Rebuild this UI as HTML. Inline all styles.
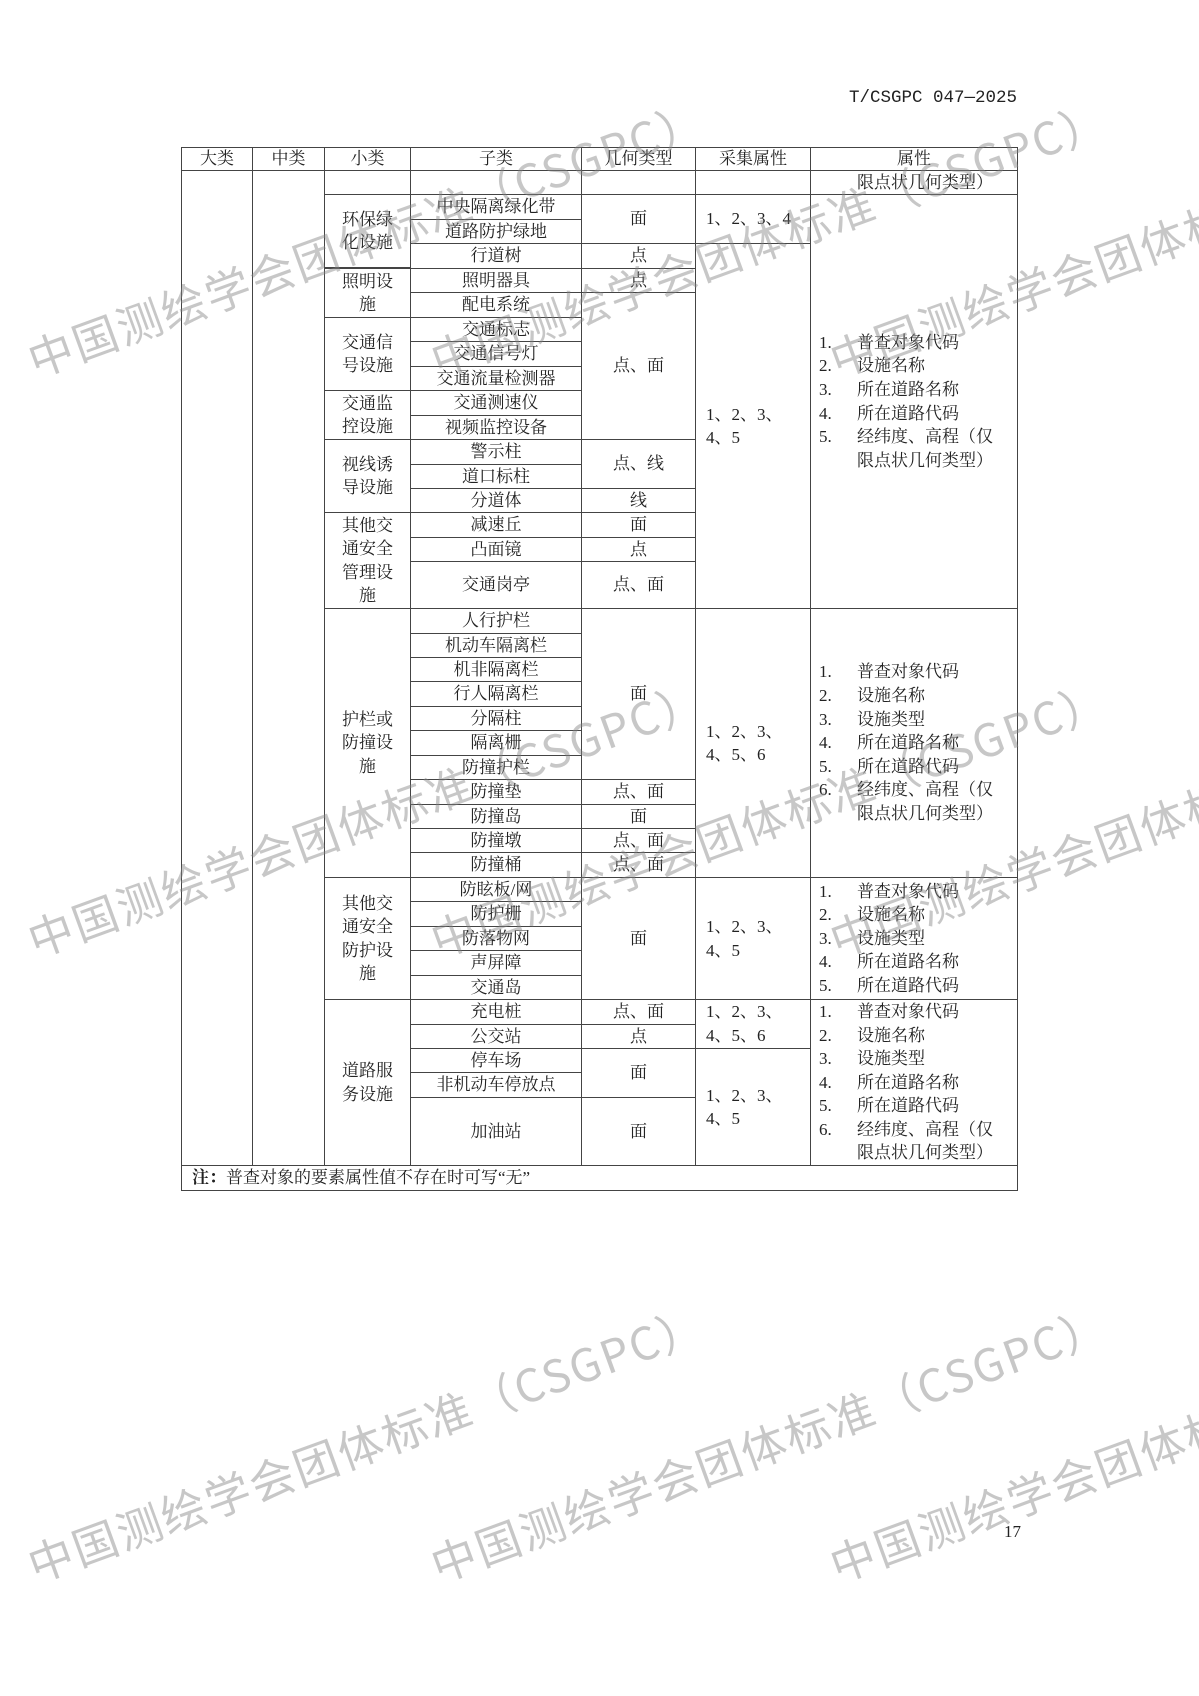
<!DOCTYPE html>
<html><head><meta charset="utf-8">
<style>
html,body{margin:0;padding:0;background:#fff;}
body{width:1199px;height:1696px;position:relative;overflow:hidden;font-family:"Liberation Serif","Noto Serif CJK SC",serif;color:#222;}
.c,.l{position:absolute;box-sizing:border-box;border:1.3px solid #444;font-size:17px;line-height:23.5px;display:flex;align-items:center;}
.c{justify-content:center;text-align:center;}
.l{justify-content:flex-start;padding-left:10px;}
.a{position:absolute;box-sizing:border-box;border:1.3px solid #444;font-size:17px;line-height:23.6px;padding-left:8px;display:flex;flex-direction:column;justify-content:center;}
.a div{display:flex;}
.a span.n{width:38px;flex:none;}
.a span.t{max-width:140px;}
.wm{position:absolute;font-family:"Noto Sans CJK SC",sans-serif;font-size:45px;color:rgba(130,130,130,0.45);white-space:nowrap;transform-origin:0 100%;transform:rotate(-20deg);letter-spacing:2px;}
</style></head><body>
<div style="position:absolute;right:182px;top:88px;font-size:17.5px;font-family:'Liberation Mono',monospace;">T/CSGPC 047—2025</div>

<!-- header -->
<div class="c" style="left:181px;top:147px;width:72px;height:24px;">大类</div>
<div class="c" style="left:252px;top:147px;width:73px;height:24px;">中类</div>
<div class="c" style="left:324px;top:147px;width:87px;height:24px;">小类</div>
<div class="c" style="left:410px;top:147px;width:172px;height:24px;">子类</div>
<div class="c" style="left:581px;top:147px;width:115px;height:24px;">几何类型</div>
<div class="c" style="left:695px;top:147px;width:116px;height:24px;">采集属性</div>
<div class="c" style="left:810px;top:147px;width:208px;height:24px;">属性</div>

<!-- big/mid -->
<div class="c" style="left:181px;top:170px;width:72px;height:996px;"></div>
<div class="c" style="left:252px;top:170px;width:73px;height:996px;"></div>

<!-- continuation row -->
<div class="c" style="left:324px;top:170px;width:87px;height:25px;"></div>
<div class="c" style="left:410px;top:170px;width:172px;height:25px;"></div>
<div class="c" style="left:581px;top:170px;width:115px;height:25px;"></div>
<div class="c" style="left:695px;top:170px;width:116px;height:25px;"></div>
<div class="l" style="left:810px;top:170px;width:208px;height:25px;padding-left:46px;">限点状几何类型）</div>

<!-- 小类 -->
<div class="c" style="left:324px;top:194px;width:87px;height:74px;">环保绿<br>化设施</div>
<div class="c" style="left:324px;top:268px;width:87px;height:50px;">照明设<br>施</div>
<div class="c" style="left:324px;top:317px;width:87px;height:74px;">交通信<br>号设施</div>
<div class="c" style="left:324px;top:390px;width:87px;height:50px;">交通监<br>控设施</div>
<div class="c" style="left:324px;top:439px;width:87px;height:74px;">视线诱<br>导设施</div>
<div class="c" style="left:324px;top:512px;width:87px;height:97px;">其他交<br>通安全<br>管理设<br>施</div>
<div class="c" style="left:324px;top:608px;width:87px;height:270px;">护栏或<br>防撞设<br>施</div>
<div class="c" style="left:324px;top:877px;width:87px;height:123px;">其他交<br>通安全<br>防护设<br>施</div>
<div class="c" style="left:324px;top:999px;width:87px;height:167px;">道路服<br>务设施</div>

<!-- 子类 -->
<div class="c" style="left:410px;top:194px;width:172px;height:26px;">中央隔离绿化带</div>
<div class="c" style="left:410px;top:219px;width:172px;height:25px;">道路防护绿地</div>
<div class="c" style="left:410px;top:243px;width:172px;height:26px;">行道树</div>
<div class="c" style="left:410px;top:268px;width:172px;height:25px;">照明器具</div>
<div class="c" style="left:410px;top:292px;width:172px;height:26px;">配电系统</div>
<div class="c" style="left:410px;top:317px;width:172px;height:25px;">交通标志</div>
<div class="c" style="left:410px;top:341px;width:172px;height:26px;">交通信号灯</div>
<div class="c" style="left:410px;top:366px;width:172px;height:25px;">交通流量检测器</div>
<div class="c" style="left:410px;top:390px;width:172px;height:26px;">交通测速仪</div>
<div class="c" style="left:410px;top:415px;width:172px;height:25px;">视频监控设备</div>
<div class="c" style="left:410px;top:439px;width:172px;height:26px;">警示柱</div>
<div class="c" style="left:410px;top:464px;width:172px;height:25px;">道口标柱</div>
<div class="c" style="left:410px;top:488px;width:172px;height:25px;">分道体</div>
<div class="c" style="left:410px;top:512px;width:172px;height:26px;">减速丘</div>
<div class="c" style="left:410px;top:537px;width:172px;height:25px;">凸面镜</div>
<div class="c" style="left:410px;top:561px;width:172px;height:48px;">交通岗亭</div>
<div class="c" style="left:410px;top:608px;width:172px;height:26px;">人行护栏</div>
<div class="c" style="left:410px;top:633px;width:172px;height:25px;">机动车隔离栏</div>
<div class="c" style="left:410px;top:657px;width:172px;height:25px;">机非隔离栏</div>
<div class="c" style="left:410px;top:681px;width:172px;height:26px;">行人隔离栏</div>
<div class="c" style="left:410px;top:706px;width:172px;height:25px;">分隔柱</div>
<div class="c" style="left:410px;top:730px;width:172px;height:26px;">隔离栅</div>
<div class="c" style="left:410px;top:755px;width:172px;height:25px;">防撞护栏</div>
<div class="c" style="left:410px;top:779px;width:172px;height:26px;">防撞垫</div>
<div class="c" style="left:410px;top:804px;width:172px;height:25px;">防撞岛</div>
<div class="c" style="left:410px;top:828px;width:172px;height:25px;">防撞墩</div>
<div class="c" style="left:410px;top:852px;width:172px;height:26px;">防撞桶</div>
<div class="c" style="left:410px;top:877px;width:172px;height:25px;">防眩板/网</div>
<div class="c" style="left:410px;top:901px;width:172px;height:26px;">防护栅</div>
<div class="c" style="left:410px;top:926px;width:172px;height:25px;">防落物网</div>
<div class="c" style="left:410px;top:950px;width:172px;height:26px;">声屏障</div>
<div class="c" style="left:410px;top:975px;width:172px;height:25px;">交通岛</div>
<div class="c" style="left:410px;top:999px;width:172px;height:26px;">充电桩</div>
<div class="c" style="left:410px;top:1024px;width:172px;height:25px;">公交站</div>
<div class="c" style="left:410px;top:1048px;width:172px;height:25px;">停车场</div>
<div class="c" style="left:410px;top:1072px;width:172px;height:26px;">非机动车停放点</div>
<div class="c" style="left:410px;top:1097px;width:172px;height:69px;">加油站</div>

<!-- 几何类型 -->
<div class="c" style="left:581px;top:194px;width:115px;height:50px;">面</div>
<div class="c" style="left:581px;top:243px;width:115px;height:26px;">点</div>
<div class="c" style="left:581px;top:268px;width:115px;height:25px;">点</div>
<div class="c" style="left:581px;top:292px;width:115px;height:148px;">点、面</div>
<div class="c" style="left:581px;top:439px;width:115px;height:50px;">点、线</div>
<div class="c" style="left:581px;top:488px;width:115px;height:25px;">线</div>
<div class="c" style="left:581px;top:512px;width:115px;height:26px;">面</div>
<div class="c" style="left:581px;top:537px;width:115px;height:25px;">点</div>
<div class="c" style="left:581px;top:561px;width:115px;height:48px;">点、面</div>
<div class="c" style="left:581px;top:608px;width:115px;height:172px;">面</div>
<div class="c" style="left:581px;top:779px;width:115px;height:26px;">点、面</div>
<div class="c" style="left:581px;top:804px;width:115px;height:25px;">面</div>
<div class="c" style="left:581px;top:828px;width:115px;height:25px;">点、面</div>
<div class="c" style="left:581px;top:852px;width:115px;height:26px;">点、面</div>
<div class="c" style="left:581px;top:877px;width:115px;height:123px;">面</div>
<div class="c" style="left:581px;top:999px;width:115px;height:26px;">点、面</div>
<div class="c" style="left:581px;top:1024px;width:115px;height:25px;">点</div>
<div class="c" style="left:581px;top:1048px;width:115px;height:50px;">面</div>
<div class="c" style="left:581px;top:1097px;width:115px;height:69px;">面</div>

<!-- 采集属性 -->
<div class="l" style="left:695px;top:194px;width:116px;height:50px;">1、2、3、4</div>
<div class="l" style="left:695px;top:243px;width:116px;height:366px;">1、2、3、<br>4、5</div>
<div class="l" style="left:695px;top:608px;width:116px;height:270px;">1、2、3、<br>4、5、6</div>
<div class="l" style="left:695px;top:877px;width:116px;height:123px;">1、2、3、<br>4、5</div>
<div class="l" style="left:695px;top:999px;width:116px;height:50px;align-items:flex-start;">1、2、3、<br>4、5、6</div>
<div class="l" style="left:695px;top:1048px;width:116px;height:118px;">1、2、3、<br>4、5</div>

<!-- 属性 -->
<div class="a" style="left:810px;top:194px;width:208px;height:415px;">
<div><span class="n">1.</span><span class="t">普查对象代码</span></div>
<div><span class="n">2.</span><span class="t">设施名称</span></div>
<div><span class="n">3.</span><span class="t">所在道路名称</span></div>
<div><span class="n">4.</span><span class="t">所在道路代码</span></div>
<div><span class="n">5.</span><span class="t">经纬度、高程（仅限点状几何类型）</span></div>
</div>
<div class="a" style="left:810px;top:608px;width:208px;height:270px;">
<div><span class="n">1.</span><span class="t">普查对象代码</span></div>
<div><span class="n">2.</span><span class="t">设施名称</span></div>
<div><span class="n">3.</span><span class="t">设施类型</span></div>
<div><span class="n">4.</span><span class="t">所在道路名称</span></div>
<div><span class="n">5.</span><span class="t">所在道路代码</span></div>
<div><span class="n">6.</span><span class="t">经纬度、高程（仅限点状几何类型）</span></div>
</div>
<div class="a" style="left:810px;top:877px;width:208px;height:123px;">
<div><span class="n">1.</span><span class="t">普查对象代码</span></div>
<div><span class="n">2.</span><span class="t">设施名称</span></div>
<div><span class="n">3.</span><span class="t">设施类型</span></div>
<div><span class="n">4.</span><span class="t">所在道路名称</span></div>
<div><span class="n">5.</span><span class="t">所在道路代码</span></div>
</div>
<div class="a" style="left:810px;top:999px;width:208px;height:167px;">
<div><span class="n">1.</span><span class="t">普查对象代码</span></div>
<div><span class="n">2.</span><span class="t">设施名称</span></div>
<div><span class="n">3.</span><span class="t">设施类型</span></div>
<div><span class="n">4.</span><span class="t">所在道路名称</span></div>
<div><span class="n">5.</span><span class="t">所在道路代码</span></div>
<div><span class="n">6.</span><span class="t">经纬度、高程（仅限点状几何类型）</span></div>
</div>

<!-- note -->
<div class="l" style="left:181px;top:1165px;width:837px;height:26px;padding-left:10px;"><b>注：</b>普查对象的要素属性值不存在时可写“无”</div>

<div style="position:absolute;left:1004px;top:1522px;font-size:17px;">17</div>

<!-- watermarks -->
<div class="wm" style="left:40px;top:325px;">中国测绘学会团体标准（CSGPC）</div>
<div class="wm" style="left:443px;top:325px;">中国测绘学会团体标准（CSGPC）</div>
<div class="wm" style="left:842px;top:325px;">中国测绘学会团体标准（CSGPC）</div>
<div class="wm" style="left:40px;top:905px;">中国测绘学会团体标准（CSGPC）</div>
<div class="wm" style="left:443px;top:905px;">中国测绘学会团体标准（CSGPC）</div>
<div class="wm" style="left:842px;top:905px;">中国测绘学会团体标准（CSGPC）</div>
<div class="wm" style="left:40px;top:1530px;">中国测绘学会团体标准（CSGPC）</div>
<div class="wm" style="left:443px;top:1530px;">中国测绘学会团体标准（CSGPC）</div>
<div class="wm" style="left:842px;top:1530px;">中国测绘学会团体标准（CSGPC）</div>
</body></html>
